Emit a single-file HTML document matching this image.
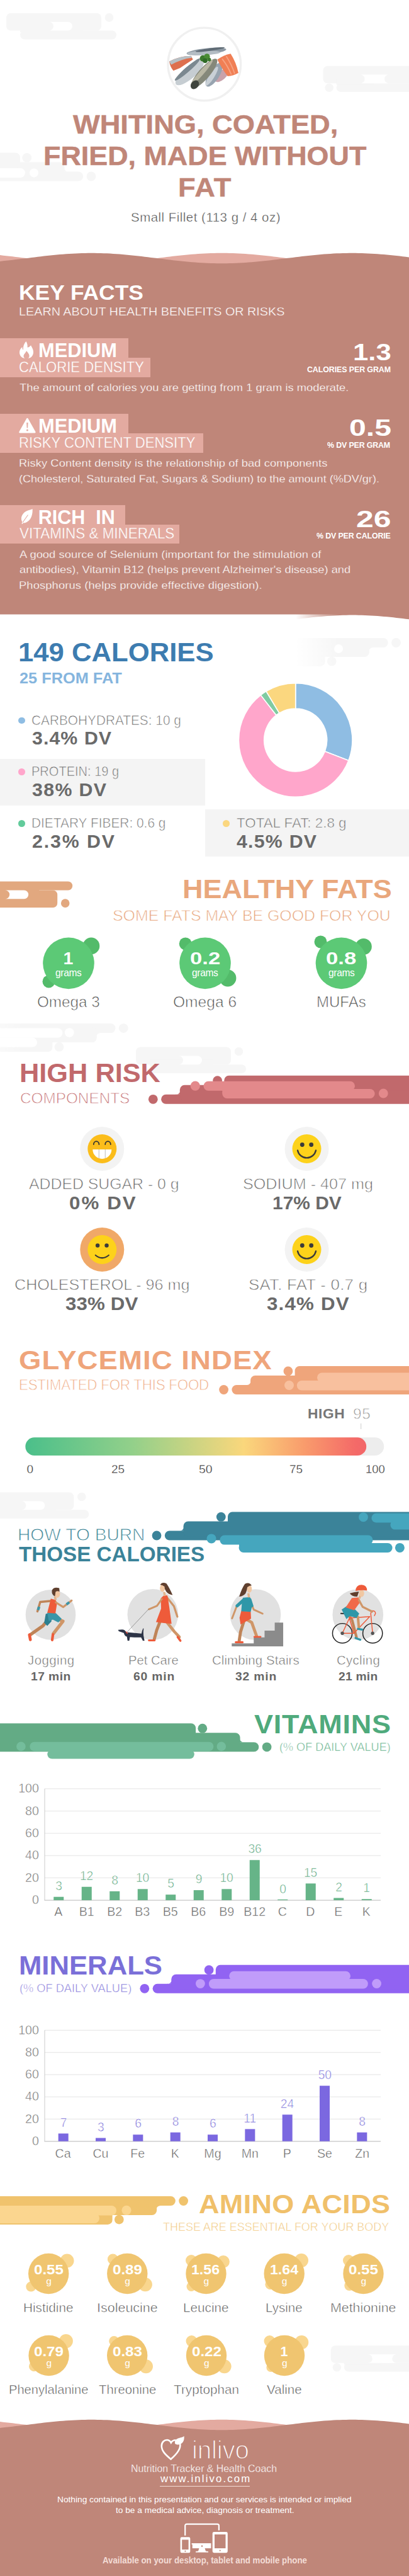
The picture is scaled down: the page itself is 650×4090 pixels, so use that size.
<!DOCTYPE html>
<html><head><meta charset="utf-8"><title>Whiting, coated, fried, made without fat</title>
<style>
html,body{margin:0;padding:0;background:#fff}
body{width:650px;height:4090px;position:relative;overflow:hidden;font-family:'Liberation Sans',sans-serif;}
.t{position:absolute;white-space:pre;line-height:1;margin:0;padding:0}
</style></head><body>
<svg style="position:absolute;left:0px;top:0px;overflow:visible" width="650" height="400" viewBox="0 0 650 400" ><g fill="#f6f6f6" transform="translate(10,21) scale(1,1)"><rect x="0" y="0" width="151" height="27.6" rx="6.9"/><circle cx="163.5" cy="6.9" r="6.8"/><rect x="22" y="27.6" width="153" height="13.8" rx="6.9"/><rect x="22" y="20" width="100" height="10"/><path d="M68.1,13.8 L98.1,13.8 A6.9,6.9 0 0 1 98.1,27.6 L68.1,27.6 A6.9,6.9 0 0 0 68.1,13.8 Z" fill="#fff"/></g><g fill="#f6f6f6"><rect x="513.6" y="104.7" width="400" height="27.6" rx="6.9"/><rect x="534.6" y="132.3" width="400" height="13.8" rx="6.9"/><rect x="534.6" y="124.7" width="60" height="10"/><circle cx="523.2" cy="139.2" r="6.8"/><path d="M572.7,118.5 L618.0,118.5 A6.9,6.9 0 0 0 618.0,132.3 L572.7,132.3 A6.9,6.9 0 0 0 572.7,118.5 Z" fill="#fff"/></g><defs><linearGradient id="gb1" gradientUnits="userSpaceOnUse" x1="-200" y1="0" x2="-100" y2="0"><stop offset="0" stop-color="#fff" stop-opacity="1"/><stop offset="1" stop-color="#fff" stop-opacity="0"/></linearGradient></defs><g fill="#f6f6f6" transform="translate(145,280) scale(-1,1)"><circle cx="0" cy="0" r="7.4"/><rect x="12.8" y="-7.5" width="700" height="15" rx="7.5"/><rect x="42.5" y="-22.5" width="700" height="24" rx="7.5"/><rect x="113" y="-37.5" width="700" height="24" rx="7.3"/><circle cx="102.3" cy="-29.6" r="7.4"/><path d="M35.5,-7.5 L43.5,-7.5 L43.5,-14 A7,7 0 0 1 35.5,-7.5 Z"/></g><circle cx="54" cy="274.5" r="7" fill="#fff"/><rect x="-20" y="267" width="60" height="15" rx="7.5" fill="#fff"/><rect x="-200" y="235" width="100" height="90" fill="url(#gb1)"/><rect x="-1000" y="235" width="800" height="90" fill="#fff"/></svg>
<svg style="position:absolute;left:0px;top:0px;overflow:visible" width="650" height="160" viewBox="0 0 650 160" ><circle cx="324.8" cy="101.9" r="57.8" fill="#fff" stroke="#f0f0f0" stroke-width="3.4"/><g transform="translate(265,40) scale(0.29343)"><ellipse cx="215" cy="142" rx="108" ry="17" transform="rotate(-6 215 142)" fill="#8d99a3"/><ellipse cx="200" cy="150" rx="90" ry="12" transform="rotate(-2 200 150)" fill="#b4bdc4"/><ellipse cx="235" cy="132" rx="80" ry="7" transform="rotate(-8 235 132)" fill="#5f6b75"/><path d="M14,196 Q70,166 132,166 L142,186 Q110,206 72,232 L36,246 Q18,226 14,196 Z" fill="#dd6f4e"/><path d="M14,196 Q70,166 132,166 L136,176 Q80,182 24,214 Z" fill="#b7c0c5"/><ellipse cx="296" cy="272" rx="46" ry="24" transform="rotate(-42 296 272)" fill="#c9a2ab"/><ellipse cx="256" cy="268" rx="74" ry="29" transform="rotate(-58 256 268)" fill="#98a4b0"/><ellipse cx="244" cy="276" rx="60" ry="14" transform="rotate(-58 244 276)" fill="#c9d0d6"/><ellipse cx="124" cy="256" rx="98" ry="33" transform="rotate(-41 124 256)" fill="#c6cdd2"/><ellipse cx="112" cy="240" rx="90" ry="13" transform="rotate(-41 112 240)" fill="#7b8890"/><ellipse cx="202" cy="262" rx="104" ry="30" transform="rotate(-49 202 262)" fill="#85887a"/><ellipse cx="190" cy="256" rx="90" ry="12" transform="rotate(-49 190 256)" fill="#b9b7a4"/><ellipse cx="152" cy="322" rx="26" ry="20" transform="rotate(-49 152 322)" fill="#3f443d"/><path d="M274,186 Q310,160 346,154 Q376,200 388,258 Q360,274 330,276 Q300,240 274,186 Z" fill="#f07f55"/><path d="M300,182 Q330,220 350,268 M322,168 Q350,210 368,262" stroke="#f6a483" stroke-width="6" fill="none"/><circle cx="196" cy="180" r="17" fill="#3c7a2c"/><circle cx="218" cy="170" r="16" fill="#4a8c34"/><circle cx="208" cy="192" r="13" fill="#2f6a26"/><circle cx="230" cy="186" r="10" fill="#3c7a2c"/></g></svg>
<svg style="position:absolute;left:0px;top:390px;overflow:visible" width="650" height="620" viewBox="0 0 650 620" ><path d="M0,100 L0.0,15.12 L5.0,15.63 L10.0,16.17 L15.0,16.73 L20.0,17.31 L25.0,17.91 L30.0,18.51 L35.0,19.13 L40.0,19.75 L45.0,20.37 L50.0,20.99 L55.0,21.61 L60.0,22.21 L65.0,22.80 L70.0,23.38 L75.0,23.94 L80.0,24.47 L85.0,24.98 L90.0,25.46 L95.0,25.91 L100.0,26.32 L105.0,26.70 L110.0,27.04 L115.0,27.34 L120.0,27.59 L125.0,27.81 L130.0,27.97 L135.0,28.10 L140.0,28.17 L145.0,28.20 L150.0,28.18 L155.0,28.11 L160.0,28.00 L165.0,27.84 L170.0,27.64 L175.0,27.39 L180.0,27.10 L185.0,26.77 L190.0,26.40 L195.0,25.99 L200.0,25.55 L205.0,25.08 L210.0,24.58 L215.0,24.05 L220.0,23.49 L225.0,22.92 L230.0,22.33 L235.0,21.73 L240.0,21.12 L245.0,20.50 L250.0,19.88 L255.0,19.25 L260.0,18.64 L265.0,18.03 L270.0,17.43 L275.0,16.85 L280.0,16.28 L285.0,15.74 L290.0,15.22 L295.0,14.73 L300.0,14.27 L305.0,13.84 L310.0,13.45 L315.0,13.09 L320.0,12.78 L325.0,12.50 L330.0,12.27 L335.0,12.09 L340.0,11.95 L345.0,11.85 L350.0,11.81 L355.0,11.81 L360.0,11.85 L365.0,11.95 L370.0,12.09 L375.0,12.27 L380.0,12.50 L385.0,12.78 L390.0,13.09 L395.0,13.45 L400.0,13.84 L405.0,14.27 L410.0,14.73 L415.0,15.22 L420.0,15.74 L425.0,16.28 L430.0,16.85 L435.0,17.43 L440.0,18.03 L445.0,18.64 L450.0,19.25 L455.0,19.88 L460.0,20.50 L465.0,21.12 L470.0,21.73 L475.0,22.33 L480.0,22.92 L485.0,23.49 L490.0,24.05 L495.0,24.58 L500.0,25.08 L505.0,25.55 L510.0,25.99 L515.0,26.40 L520.0,26.77 L525.0,27.10 L530.0,27.39 L535.0,27.64 L540.0,27.84 L545.0,28.00 L550.0,28.11 L555.0,28.18 L560.0,28.20 L565.0,28.17 L570.0,28.10 L575.0,27.97 L580.0,27.81 L585.0,27.59 L590.0,27.34 L595.0,27.04 L600.0,26.70 L605.0,26.32 L610.0,25.91 L615.0,25.46 L620.0,24.98 L625.0,24.47 L630.0,23.94 L635.0,23.38 L640.0,22.80 L645.0,22.21 L650.0,21.61 L650,100 Z" fill="#e3aaa0"/><path d="M0,605 L0.0,24.88 L5.0,24.37 L10.0,23.83 L15.0,23.27 L20.0,22.69 L25.0,22.09 L30.0,21.49 L35.0,20.87 L40.0,20.25 L45.0,19.63 L50.0,19.01 L55.0,18.39 L60.0,17.79 L65.0,17.20 L70.0,16.62 L75.0,16.06 L80.0,15.53 L85.0,15.02 L90.0,14.54 L95.0,14.09 L100.0,13.68 L105.0,13.30 L110.0,12.96 L115.0,12.66 L120.0,12.41 L125.0,12.19 L130.0,12.03 L135.0,11.90 L140.0,11.83 L145.0,11.80 L150.0,11.82 L155.0,11.89 L160.0,12.00 L165.0,12.16 L170.0,12.36 L175.0,12.61 L180.0,12.90 L185.0,13.23 L190.0,13.60 L195.0,14.01 L200.0,14.45 L205.0,14.92 L210.0,15.42 L215.0,15.95 L220.0,16.51 L225.0,17.08 L230.0,17.67 L235.0,18.27 L240.0,18.88 L245.0,19.50 L250.0,20.12 L255.0,20.75 L260.0,21.36 L265.0,21.97 L270.0,22.57 L275.0,23.15 L280.0,23.72 L285.0,24.26 L290.0,24.78 L295.0,25.27 L300.0,25.73 L305.0,26.16 L310.0,26.55 L315.0,26.91 L320.0,27.22 L325.0,27.50 L330.0,27.73 L335.0,27.91 L340.0,28.05 L345.0,28.15 L350.0,28.19 L355.0,28.19 L360.0,28.15 L365.0,28.05 L370.0,27.91 L375.0,27.73 L380.0,27.50 L385.0,27.22 L390.0,26.91 L395.0,26.55 L400.0,26.16 L405.0,25.73 L410.0,25.27 L415.0,24.78 L420.0,24.26 L425.0,23.72 L430.0,23.15 L435.0,22.57 L440.0,21.97 L445.0,21.36 L450.0,20.75 L455.0,20.12 L460.0,19.50 L465.0,18.88 L470.0,18.27 L475.0,17.67 L480.0,17.08 L485.0,16.51 L490.0,15.95 L495.0,15.42 L500.0,14.92 L505.0,14.45 L510.0,14.01 L515.0,13.60 L520.0,13.23 L525.0,12.90 L530.0,12.61 L535.0,12.36 L540.0,12.16 L545.0,12.00 L550.0,11.89 L555.0,11.82 L560.0,11.80 L565.0,11.83 L570.0,11.90 L575.0,12.03 L580.0,12.19 L585.0,12.41 L590.0,12.66 L595.0,12.96 L600.0,13.30 L605.0,13.68 L610.0,14.09 L615.0,14.54 L620.0,15.02 L625.0,15.53 L630.0,16.06 L635.0,16.62 L640.0,17.20 L645.0,17.79 L650.0,18.39 L650,605 Z" fill="#bf8679"/><path d="M0,620 L0.0,589.95 L5.0,590.47 L10.0,591.02 L15.0,591.60 L20.0,592.19 L25.0,592.80 L30.0,593.42 L35.0,594.05 L40.0,594.68 L45.0,595.32 L50.0,595.95 L55.0,596.58 L60.0,597.20 L65.0,597.81 L70.0,598.40 L75.0,598.98 L80.0,599.53 L85.0,600.05 L90.0,600.54 L95.0,601.01 L100.0,601.43 L105.0,601.83 L110.0,602.18 L115.0,602.49 L120.0,602.75 L125.0,602.98 L130.0,603.15 L135.0,603.28 L140.0,603.37 L145.0,603.40 L150.0,603.38 L155.0,603.32 L160.0,603.21 L165.0,603.05 L170.0,602.85 L175.0,602.60 L180.0,602.31 L185.0,601.97 L190.0,601.60 L195.0,601.18 L200.0,600.73 L205.0,600.25 L210.0,599.74 L215.0,599.20 L220.0,598.64 L225.0,598.05 L230.0,597.45 L235.0,596.83 L240.0,596.21 L245.0,595.57 L250.0,594.94 L255.0,594.30 L260.0,593.67 L265.0,593.04 L270.0,592.43 L275.0,591.83 L280.0,591.25 L285.0,590.69 L290.0,590.16 L295.0,589.65 L300.0,589.17 L305.0,588.73 L310.0,588.33 L315.0,587.96 L320.0,587.63 L325.0,587.35 L330.0,587.11 L335.0,586.91 L340.0,586.76 L345.0,586.66 L350.0,586.61 L355.0,586.60 L360.0,586.65 L365.0,586.74 L370.0,586.88 L375.0,587.06 L380.0,587.30 L385.0,587.57 L390.0,587.89 L395.0,588.25 L400.0,588.65 L405.0,589.08 L410.0,589.55 L415.0,590.05 L420.0,590.58 L425.0,591.14 L430.0,591.71 L435.0,592.31 L440.0,592.92 L445.0,593.54 L450.0,594.17 L455.0,594.81 L460.0,595.45 L465.0,596.08 L470.0,596.71 L475.0,597.33 L480.0,597.93 L485.0,598.52 L490.0,599.09 L495.0,599.63 L500.0,600.15 L505.0,600.64 L510.0,601.10 L515.0,601.52 L520.0,601.90 L525.0,602.24 L530.0,602.54 L535.0,602.80 L540.0,603.02 L545.0,603.18 L550.0,603.30 L555.0,603.38 L560.0,603.40 L565.0,603.38 L570.0,603.30 L575.0,603.18 L580.0,603.02 L585.0,602.80 L590.0,602.54 L595.0,602.24 L600.0,601.90 L605.0,601.52 L610.0,601.10 L615.0,600.64 L620.0,600.15 L625.0,599.63 L630.0,599.09 L635.0,598.52 L640.0,597.93 L645.0,597.33 L650.0,596.71 L650,620 Z" fill="#fff" fill-opacity="0.5"/><path d="M0,620 L0.0,600.05 L5.0,599.53 L10.0,598.98 L15.0,598.40 L20.0,597.81 L25.0,597.20 L30.0,596.58 L35.0,595.95 L40.0,595.32 L45.0,594.68 L50.0,594.05 L55.0,593.42 L60.0,592.80 L65.0,592.19 L70.0,591.60 L75.0,591.02 L80.0,590.47 L85.0,589.95 L90.0,589.46 L95.0,588.99 L100.0,588.57 L105.0,588.17 L110.0,587.82 L115.0,587.51 L120.0,587.25 L125.0,587.02 L130.0,586.85 L135.0,586.72 L140.0,586.63 L145.0,586.60 L150.0,586.62 L155.0,586.68 L160.0,586.79 L165.0,586.95 L170.0,587.15 L175.0,587.40 L180.0,587.69 L185.0,588.03 L190.0,588.40 L195.0,588.82 L200.0,589.27 L205.0,589.75 L210.0,590.26 L215.0,590.80 L220.0,591.36 L225.0,591.95 L230.0,592.55 L235.0,593.17 L240.0,593.79 L245.0,594.43 L250.0,595.06 L255.0,595.70 L260.0,596.33 L265.0,596.96 L270.0,597.57 L275.0,598.17 L280.0,598.75 L285.0,599.31 L290.0,599.84 L295.0,600.35 L300.0,600.83 L305.0,601.27 L310.0,601.67 L315.0,602.04 L320.0,602.37 L325.0,602.65 L330.0,602.89 L335.0,603.09 L340.0,603.24 L345.0,603.34 L350.0,603.39 L355.0,603.40 L360.0,603.35 L365.0,603.26 L370.0,603.12 L375.0,602.94 L380.0,602.70 L385.0,602.43 L390.0,602.11 L395.0,601.75 L400.0,601.35 L405.0,600.92 L410.0,600.45 L415.0,599.95 L420.0,599.42 L425.0,598.86 L430.0,598.29 L435.0,597.69 L440.0,597.08 L445.0,596.46 L450.0,595.83 L455.0,595.19 L460.0,594.55 L465.0,593.92 L470.0,593.29 L475.0,592.67 L480.0,592.07 L485.0,591.48 L490.0,590.91 L495.0,590.37 L500.0,589.85 L505.0,589.36 L510.0,588.90 L515.0,588.48 L520.0,588.10 L525.0,587.76 L530.0,587.46 L535.0,587.20 L540.0,586.98 L545.0,586.82 L550.0,586.70 L555.0,586.62 L560.0,586.60 L565.0,586.62 L570.0,586.70 L575.0,586.82 L580.0,586.98 L585.0,587.20 L590.0,587.46 L595.0,587.76 L600.0,588.10 L605.0,588.48 L610.0,588.90 L615.0,589.36 L620.0,589.85 L625.0,590.37 L630.0,590.91 L635.0,591.48 L640.0,592.07 L645.0,592.67 L650.0,593.29 L650,620 Z" fill="#fff"/></svg>
<div style="position:absolute;left:0px;top:537px;width:203.8px;height:32px;background:#e3aaa0"></div>
<div style="position:absolute;left:0px;top:568px;width:239.2px;height:30.6px;background:#e3aaa0"></div>
<svg style="position:absolute;left:31.4px;top:541.6px;overflow:visible" width="22" height="27" viewBox="0 0 22 27" ><path d="M10.5,0 C12.5,3.5 13,6.5 12.5,9.5 C14.5,10 16.5,8.5 18,6.3 C20,10 22,13 22,17 C22,23 18,27 12.5,27 L9.5,27 C4,27 0,23 0,17.5 C0,13.5 2,11 4.5,9 C4.3,11.5 5,13 6,13.5 C5.5,8 7.5,3 10.5,0 Z M11,15 C13,18 16,20 15.5,24 C15.3,26 14,27 12.5,27 L9.5,27 C8,27 6.5,25.5 6.5,23.5 C6.5,20 10,18.5 11,15 Z" fill="#fff" fill-rule="evenodd"/></svg>
<div style="position:absolute;left:0px;top:657.2px;width:203.8px;height:32px;background:#e3aaa0"></div>
<div style="position:absolute;left:0px;top:688.2px;width:322.8px;height:30.6px;background:#e3aaa0"></div>
<svg style="position:absolute;left:30px;top:662.7px;overflow:visible" width="27" height="25" viewBox="0 0 27 25" ><path d="M13.4 0.8 C13.9 0.8 14.3 1.1 14.6 1.6 L26.4 22.4 C26.9 23.4 26.3 24.4 25.2 24.4 L1.6 24.4 C0.5 24.4 -0.1 23.4 0.4 22.4 L12.2 1.6 C12.5 1.1 12.9 0.8 13.4 0.8 Z M12.2 8 L12.6 16.6 L14.2 16.6 L14.6 8 Z M13.4 18.4 A1.5 1.5 0 1 0 13.4 21.4 A1.5 1.5 0 1 0 13.4 18.4 Z" fill="#fff" fill-rule="evenodd"/></svg>
<div style="position:absolute;left:0px;top:801.7px;width:198.7px;height:32px;background:#e3aaa0"></div>
<div style="position:absolute;left:0px;top:832.7px;width:284.6px;height:30.6px;background:#e3aaa0"></div>
<svg style="position:absolute;left:32.7px;top:807.7px;overflow:visible" width="19" height="24" viewBox="0 0 19 24" ><path d="M18.6,0 C19.2,8 17,17 9.5,21 C7.5,22 5.5,22.6 3.8,22.2 L2.6,24 L1.4,23.4 L2.4,21 C-1,15 1.5,7.5 9,3.6 C12,2 16,1.6 18.6,0 Z" fill="#fff"/><path d="M3,21.5 L11.5,9.5" stroke="#e3aaa0" stroke-width="1.1" fill="none"/></svg>
<svg style="position:absolute;left:0px;top:0px;overflow:visible" width="650" height="1100" viewBox="0 0 650 1100" ><defs><linearGradient id="gb2" gradientUnits="userSpaceOnUse" x1="470" y1="0" x2="540" y2="0"><stop offset="0" stop-color="#fff" stop-opacity="1"/><stop offset="1" stop-color="#fff" stop-opacity="0"/></linearGradient></defs><g fill="#f6f6f6" transform="translate(629.5,1020.5) scale(-1,-1)"><circle cx="0" cy="0" r="7.4"/><rect x="12.8" y="-7.5" width="700" height="15" rx="7.5"/><rect x="42.5" y="-22.5" width="700" height="24" rx="7.5"/><rect x="113" y="-37.5" width="700" height="24" rx="7.3"/><circle cx="102.3" cy="-29.6" r="7.4"/><path d="M35.5,-7.5 L43.5,-7.5 L43.5,-14 A7,7 0 0 1 35.5,-7.5 Z"/></g><circle cx="538" cy="1030" r="7" fill="#fff"/><rect x="470" y="975.5" width="70" height="90" fill="url(#gb2)"/><rect x="-330" y="975.5" width="800" height="90" fill="#fff"/></svg>
<div style="position:absolute;left:0px;top:1205px;width:325.5px;height:74px;background:#f4f4f4"></div>
<div style="position:absolute;left:325.5px;top:1285px;width:325px;height:75px;background:#f4f4f4"></div>
<div style="position:absolute;left:29.2px;top:1138.8px;width:10.6px;height:10.6px;border-radius:50%;background:#8fbde3"></div>
<div style="position:absolute;left:29.2px;top:1220.3px;width:10.6px;height:10.6px;border-radius:50%;background:#ffa6cb"></div>
<div style="position:absolute;left:29.2px;top:1302.3px;width:10.6px;height:10.6px;border-radius:50%;background:#62cb9b"></div>
<div style="position:absolute;left:354.4px;top:1302.3px;width:10.6px;height:10.6px;border-radius:50%;background:#fbd77f"></div>
<svg style="position:absolute;left:0px;top:1070px;overflow:visible" width="650" height="210" viewBox="0 0 650 210" ><path d="M469.70,14.70 A90.3,90.3 0 0 1 553.94,137.52 L516.34,123.01 A50,50 0 0 0 469.70,55.00 Z" fill="#8fbde3" stroke="#fff" stroke-width="1.6" stroke-linejoin="round"/><path d="M553.94,137.52 A90.3,90.3 0 1 1 414.38,33.63 L439.07,65.48 A50,50 0 1 0 516.34,123.01 Z" fill="#ffa6cb" stroke="#fff" stroke-width="1.6" stroke-linejoin="round"/><path d="M414.38,33.63 A90.3,90.3 0 0 1 423.04,27.69 L443.87,62.19 A50,50 0 0 0 439.07,65.48 Z" fill="#80cba2" stroke="#fff" stroke-width="1.6" stroke-linejoin="round"/><path d="M423.04,27.69 A90.3,90.3 0 0 1 469.70,14.70 L469.70,55.00 A50,50 0 0 0 443.87,62.19 Z" fill="#fbd77f" stroke="#fff" stroke-width="1.6" stroke-linejoin="round"/></svg>
<svg style="position:absolute;left:0px;top:1390px;overflow:visible" width="650" height="60" viewBox="0 0 650 60" ><g fill="#e2a87f" transform="translate(-59.8,50.99999999999991) scale(1,-1)"><rect x="0" y="0" width="151" height="27.6" rx="6.9"/><circle cx="163.5" cy="6.9" r="6.8"/><rect x="22" y="27.6" width="153" height="13.8" rx="6.9"/><rect x="22" y="20" width="100" height="10"/><path d="M68.1,13.8 L98.1,13.8 A6.9,6.9 0 0 1 98.1,27.6 L68.1,27.6 A6.9,6.9 0 0 0 68.1,13.8 Z" fill="#fff"/></g></svg>
<svg style="position:absolute;left:0px;top:1470px;overflow:visible" width="650" height="120" viewBox="0 0 650 120" ><circle cx="145" cy="31.90000000000009" r="13.3" fill="#53bb6a"/><circle cx="77.5" cy="88.40000000000009" r="10" fill="#53bb6a"/><circle cx="109" cy="59.40000000000009" r="40.8" fill="#5cc976"/></svg>
<svg style="position:absolute;left:0px;top:1470px;overflow:visible" width="650" height="120" viewBox="0 0 650 120" ><circle cx="294.7" cy="28.40000000000009" r="10" fill="#53bb6a"/><circle cx="362" cy="83.0" r="13.4" fill="#53bb6a"/><circle cx="326" cy="59.40000000000009" r="40.8" fill="#5cc976"/></svg>
<svg style="position:absolute;left:0px;top:1470px;overflow:visible" width="650" height="120" viewBox="0 0 650 120" ><circle cx="509.5" cy="25.40000000000009" r="10" fill="#53bb6a"/><circle cx="577.8" cy="33.0" r="13" fill="#53bb6a"/><circle cx="542.5" cy="59.40000000000009" r="40.8" fill="#5cc976"/></svg>
<svg style="position:absolute;left:0px;top:0px;overflow:visible" width="650" height="1720" viewBox="0 0 650 1720" ><defs><linearGradient id="gb3" gradientUnits="userSpaceOnUse" x1="-60" y1="0" x2="40" y2="0"><stop offset="0" stop-color="#fff" stop-opacity="1"/><stop offset="1" stop-color="#fff" stop-opacity="0"/></linearGradient></defs><g fill="#f6f6f6" transform="translate(196.3,1632.6) scale(-1,-1)"><circle cx="0" cy="0" r="7.4"/><rect x="12.8" y="-7.5" width="700" height="15" rx="7.5"/><rect x="42.5" y="-22.5" width="700" height="24" rx="7.5"/><rect x="113" y="-37.5" width="700" height="24" rx="7.3"/><circle cx="102.3" cy="-29.6" r="7.4"/><path d="M35.5,-7.5 L43.5,-7.5 L43.5,-14 A7,7 0 0 1 35.5,-7.5 Z"/></g><circle cx="110.3" cy="1639.6" r="7.4" fill="#fff"/><rect x="-20" y="1632.5" width="119.5" height="15.0" rx="7.5" fill="#fff"/><rect x="-20" y="1647.5" width="79" height="15.0" rx="7.5" fill="#fff"/><rect x="-60" y="1587.6" width="100" height="90" fill="url(#gb3)"/><rect x="-860" y="1587.6" width="800" height="90" fill="#fff"/><g fill="#f6f6f6" transform="translate(216,1662.6) scale(1,1)"><rect x="0" y="0" width="151" height="27.6" rx="6.9"/><circle cx="163.5" cy="6.9" r="6.8"/><rect x="22" y="27.6" width="153" height="13.8" rx="6.9"/><rect x="22" y="20" width="100" height="10"/><path d="M68.1,13.8 L98.1,13.8 A6.9,6.9 0 0 1 98.1,27.6 L68.1,27.6 A6.9,6.9 0 0 0 68.1,13.8 Z" fill="#fff"/></g></svg>
<svg style="position:absolute;left:0px;top:1690px;overflow:visible" width="650" height="80" viewBox="0 0 650 80" ><g fill="#c1696c" transform="translate(243.3,55.299999999999955) scale(1,1)"><circle cx="0" cy="0" r="7.4"/><rect x="12.8" y="-7.5" width="700" height="15" rx="7.5"/><rect x="42.5" y="-22.5" width="700" height="24" rx="7.5"/><rect x="113" y="-37.5" width="700" height="24" rx="7.3"/><circle cx="102.3" cy="-29.6" r="7.4"/><path d="M35.5,-7.5 L43.5,-7.5 L43.5,-14 A7,7 0 0 1 35.5,-7.5 Z"/></g><circle cx="310.3" cy="34.200000000000045" r="7.6" fill="#e3898b"/><rect x="323.5" y="26.799999999999955" width="240.5" height="15.0" rx="7.5" fill="#e3898b"/><rect x="353.3" y="39" width="242.3" height="15" rx="7.5" fill="#e3898b"/><rect x="353.3" y="32" width="190" height="14" fill="#e3898b"/><circle cx="609.3" cy="46" r="7.4" fill="#e3898b"/></svg>
<svg style="position:absolute;left:0px;top:1780px;overflow:visible" width="650" height="260" viewBox="0 0 650 260" ><circle cx="162.3" cy="44" r="35" fill="#f3f3f3"/><circle cx="162.3" cy="44" r="23" fill="#fbbd1b"/><path d="M147.3,45 L177.3,45 A15,15 0 0 1 147.3,45 Z" fill="#fff"/><path d="M157.3,45 L157.3,59 M167.3,45 L167.3,59" stroke="#ccc" stroke-width="1.3"/><path d="M148.8,37 a4.3,4.8 0 0 1 8.6,0 M167.20000000000002,37 a4.3,4.8 0 0 1 8.6,0" stroke="#333" stroke-width="1.8" fill="none" stroke-linecap="round"/><circle cx="487.5" cy="44" r="35" fill="#f3f3f3"/><circle cx="487.5" cy="44" r="23" fill="#fdd21a"/><circle cx="480.3" cy="37.5" r="3.4" fill="#3a3a3a"/><circle cx="494.7" cy="37.5" r="3.4" fill="#3a3a3a"/><path d="M473.0,46.5 A14.8,14.8 0 0 0 502.0,46.5" stroke="#3a3a3a" stroke-width="2.4" fill="none" stroke-linecap="round"/><circle cx="162.3" cy="204" r="35" fill="#f0a868"/><circle cx="162.3" cy="204" r="23" fill="#fdd21a"/><circle cx="155.10000000000002" cy="197.5" r="3.2" fill="#3a3a3a"/><circle cx="169.5" cy="197.5" r="3.2" fill="#3a3a3a"/><path d="M151.8,213 Q162.3,221.5 172.8,213" stroke="#3a3a3a" stroke-width="2.2" fill="none" stroke-linecap="round"/><circle cx="487.5" cy="204" r="35" fill="#f3f3f3"/><circle cx="487.5" cy="204" r="23" fill="#fdd21a"/><circle cx="480.3" cy="197.5" r="3.4" fill="#3a3a3a"/><circle cx="494.7" cy="197.5" r="3.4" fill="#3a3a3a"/><path d="M473.0,206.5 A14.8,14.8 0 0 0 502.0,206.5" stroke="#3a3a3a" stroke-width="2.4" fill="none" stroke-linecap="round"/></svg>
<svg style="position:absolute;left:0px;top:2150px;overflow:visible" width="650" height="80" viewBox="0 0 650 80" ><g fill="#efa57b" transform="translate(355.6,56.5) scale(1,1)"><circle cx="0" cy="0" r="7.4"/><rect x="12.8" y="-7.5" width="700" height="15" rx="7.5"/><rect x="42.5" y="-22.5" width="700" height="24" rx="7.5"/><rect x="113" y="-37.5" width="700" height="24" rx="7.3"/><circle cx="102.3" cy="-29.6" r="7.4"/><path d="M35.5,-7.5 L43.5,-7.5 L43.5,-14 A7,7 0 0 1 35.5,-7.5 Z"/></g><circle cx="459.5" cy="49.5" r="7.5" fill="#f8c09e"/><rect x="471.8" y="42" width="228.2" height="15.5" rx="7.75" fill="#f8c09e"/><rect x="504" y="29.59999999999991" width="196" height="15.400000000000091" rx="7.7000000000000455" fill="#f8c09e"/><rect x="520" y="36" width="140" height="14" fill="#f8c09e"/></svg>
<svg style="position:absolute;left:0px;top:2230px;overflow:visible" width="650" height="120" viewBox="0 0 650 120" ><defs><linearGradient id="gi" gradientUnits="userSpaceOnUse" x1="40" y1="0" x2="610" y2="0"><stop offset="0" stop-color="#4abf8a"/><stop offset="0.3" stop-color="#93d08a"/><stop offset="0.61" stop-color="#fad77c"/><stop offset="0.78" stop-color="#f99b6c"/><stop offset="0.92" stop-color="#f46a68"/><stop offset="1" stop-color="#f0606a"/></linearGradient></defs><rect x="40.4" y="52.30000000000018" width="569.8000000000001" height="28.699999999999818" rx="14.349999999999909" fill="#ededed"/><rect x="40.4" y="52.30000000000018" width="541.8000000000001" height="28.699999999999818" rx="14.349999999999909" fill="url(#gi)"/><rect x="573.2" y="30" width="1" height="9" fill="#ccc"/></svg>
<svg style="position:absolute;left:0px;top:2360px;overflow:visible" width="650" height="60" viewBox="0 0 650 60" ><g fill="#f6f6f6" transform="translate(-33.7,9.599999999999909) scale(1,1)"><rect x="0" y="0" width="151" height="27.6" rx="6.9"/><circle cx="163.5" cy="6.9" r="6.8"/><rect x="22" y="27.6" width="153" height="13.8" rx="6.9"/><rect x="22" y="20" width="100" height="10"/><path d="M68.1,13.8 L98.1,13.8 A6.9,6.9 0 0 1 98.1,27.6 L68.1,27.6 A6.9,6.9 0 0 0 68.1,13.8 Z" fill="#fff"/></g></svg>
<svg style="position:absolute;left:0px;top:2390px;overflow:visible" width="650" height="90" viewBox="0 0 650 90" ><g fill="#3b8399" transform="translate(249,48) scale(1,1)"><circle cx="0" cy="0" r="7.4"/><rect x="12.8" y="-7.5" width="700" height="15" rx="7.5"/><rect x="42.5" y="-22.5" width="700" height="24" rx="7.5"/><rect x="113" y="-37.5" width="700" height="24" rx="7.3"/><circle cx="102.3" cy="-29.6" r="7.4"/><path d="M35.5,-7.5 L43.5,-7.5 L43.5,-14 A7,7 0 0 1 35.5,-7.5 Z"/></g><circle cx="336" cy="52.90000000000009" r="7.5" fill="#45a6be"/><rect x="349.3" y="47.59999999999991" width="243.2" height="15.0" rx="7.5" fill="#45a6be"/><rect x="379.6" y="60" width="244.0" height="15" rx="7.5" fill="#45a6be"/><rect x="380" y="54" width="205" height="12" fill="#45a6be"/><circle cx="635.4" cy="67.40000000000009" r="7.5" fill="#45a6be"/><circle cx="577.5" cy="18.800000000000182" r="7.4" fill="#45a6be"/><rect x="590.4" y="12.800000000000182" width="109.60000000000002" height="14.599999999999909" rx="7.2999999999999545" fill="#45a6be"/><rect x="620.4" y="23.59999999999991" width="79.60000000000002" height="15.0" rx="7.5" fill="#45a6be"/><rect x="627" y="19" width="30" height="10" fill="#45a6be"/></svg>
<svg style="position:absolute;left:0px;top:2500px;overflow:visible" width="650" height="125" viewBox="0 0 650 125" ><g transform="translate(36,10) scale(0.24450)"><circle cx="182" cy="220" r="163" fill="#e1e1e1"/><path d="M168,248 L132,292 L52,348" stroke="#bf8458" stroke-width="21" fill="none" stroke-linecap="round" stroke-linejoin="round"/><path d="M44,350 L50,382" stroke="#ee5b3a" stroke-width="19" fill="none" stroke-linecap="round" stroke-linejoin="round"/><path d="M190,130 L114,137 L96,198" stroke="#bf8458" stroke-width="14" fill="none" stroke-linecap="round" stroke-linejoin="round"/><path d="M107,168 L100,190" stroke="#3a96a8" stroke-width="17" fill="none" stroke-linecap="butt" stroke-linejoin="round"/><polygon points="150,215 172,208 188,262 160,292 140,272" fill="#2c7f90"/><path d="M205,238 L262,262 L200,342" stroke="#cf9668" stroke-width="21" fill="none" stroke-linecap="round" stroke-linejoin="round"/><path d="M197,348 L192,384" stroke="#ee5b3a" stroke-width="17" fill="none" stroke-linecap="round" stroke-linejoin="round"/><polygon points="160,205 216,210 254,246 232,270 196,252 170,262" fill="#3a96a8"/><polygon points="183,116 214,124 224,142 213,212 160,208 174,152" fill="#ee5b3a"/><path d="M216,140 L264,170 L318,128" stroke="#cf9668" stroke-width="13" fill="none" stroke-linecap="round" stroke-linejoin="round"/><path d="M285,153 L303,139" stroke="#3a96a8" stroke-width="16" fill="none" stroke-linecap="butt" stroke-linejoin="round"/><path d="M210,100 L214,124" stroke="#e3b48c" stroke-width="15" fill="none" stroke-linecap="butt" stroke-linejoin="round"/><ellipse cx="225" cy="85" rx="18" ry="25" fill="#f1c7a2"/><path d="M190,62 Q202,36 238,47 L240,70 Q224,62 214,72 L210,100 Q188,92 190,62 Z" fill="#5f3f2e"/></g><g transform="translate(185,5) scale(0.26896)"><circle cx="215" cy="217" r="150" fill="#e1e1e1"/><path d="M300,118 L340,168 L360,230" stroke="#cf9668" stroke-width="12" fill="none" stroke-linecap="round" stroke-linejoin="round"/><path d="M298,262 L342,318 L372,350" stroke="#cf9668" stroke-width="17" fill="none" stroke-linecap="round" stroke-linejoin="round"/><path d="M362,350 L378,372" stroke="#ee5b3a" stroke-width="13" fill="none" stroke-linecap="round" stroke-linejoin="round"/><path d="M258,258 L238,310 L224,362" stroke="#bf8458" stroke-width="18" fill="none" stroke-linecap="round" stroke-linejoin="round"/><path d="M192,370 L226,370" stroke="#ee5b3a" stroke-width="11" fill="none" stroke-linecap="round" stroke-linejoin="round"/><polygon points="262,122 284,100 302,106 312,170 326,272 234,262 264,182" fill="#ee5b3a"/><path d="M268,126 L240,166 L192,186" stroke="#cf9668" stroke-width="11" fill="none" stroke-linecap="round" stroke-linejoin="round"/><path d="M282,84 L286,108" stroke="#e3b48c" stroke-width="13" fill="none" stroke-linecap="butt" stroke-linejoin="round"/><ellipse cx="272" cy="62" rx="15" ry="22" fill="#f1c7a2"/><path d="M258,42 Q270,22 296,34 Q314,60 332,102 Q308,100 294,82 Q284,70 284,52 Q272,42 258,42 Z" fill="#5f3f2e"/><path d="M190,186 L64,320" stroke="#555" stroke-width="2" fill="none" stroke-linecap="round" stroke-linejoin="round"/><path d="M10,308 L34,306 Q50,306 58,322 Q100,326 148,330 Q152,310 158,298 L161,300 Q158,318 160,340 L166,372 L156,372 L146,352 Q100,352 80,350 L76,372 L66,372 L62,348 Q48,344 44,326 L14,316 Z" fill="#2d3447"/><path d="M56,318 L66,330" stroke="#e34b3a" stroke-width="5" fill="none" stroke-linecap="butt" stroke-linejoin="round"/></g><g transform="translate(350,5) scale(0.26896)"><circle cx="208" cy="218" r="150" fill="#e1e1e1"/><polygon points="68,388 198,388 198,352 262,352 262,312 322,312 322,265 372,265 372,405 68,405" fill="#8b8b8b"/><path d="M96,172 L70,240" stroke="#cf9668" stroke-width="11" fill="none" stroke-linecap="round" stroke-linejoin="round"/><path d="M140,130 L100,166" stroke="#2f97a8" stroke-width="19" fill="none" stroke-linecap="round" stroke-linejoin="round"/><path d="M138,262 L120,320 L112,372" stroke="#bf8458" stroke-width="18" fill="none" stroke-linecap="round" stroke-linejoin="round"/><path d="M92,381 L132,381" stroke="#ee5b3a" stroke-width="12" fill="none" stroke-linecap="round" stroke-linejoin="round"/><path d="M162,250 L186,264 L214,342" stroke="#cf9668" stroke-width="18" fill="none" stroke-linecap="round" stroke-linejoin="round"/><path d="M202,349 L238,349" stroke="#ee5b3a" stroke-width="11" fill="none" stroke-linecap="round" stroke-linejoin="round"/><polygon points="124,196 180,200 182,242 120,276 114,236" fill="#ee5b3a"/><polygon points="134,118 176,114 188,168 180,202 124,198 128,150" fill="#2f97a8"/><path d="M182,150 L198,188 L250,212" stroke="#cf9668" stroke-width="11" fill="none" stroke-linecap="round" stroke-linejoin="round"/><path d="M176,128 L188,166" stroke="#2f97a8" stroke-width="16" fill="none" stroke-linecap="round" stroke-linejoin="round"/><path d="M166,92 L170,116" stroke="#e3b48c" stroke-width="13" fill="none" stroke-linecap="butt" stroke-linejoin="round"/><ellipse cx="172" cy="66" rx="15" ry="22" fill="#f1c7a2"/><path d="M186,46 Q172,24 146,36 Q128,60 112,112 Q138,108 150,92 Q158,78 160,56 Q172,46 186,46 Z" fill="#5f3f2e"/></g><g transform="translate(515,5) scale(0.26896)"><circle cx="200" cy="218" r="150" fill="#e1e1e1"/><circle cx="108" cy="328" r="58" fill="none" stroke="#1d1d1d" stroke-width="5.5"/><circle cx="287" cy="328" r="58" fill="none" stroke="#1d1d1d" stroke-width="5.5"/><path d="M150,225 L166,250 L192,352" stroke="#bf8458" stroke-width="15" fill="none" stroke-linecap="round" stroke-linejoin="round"/><path d="M186,356 L214,366" stroke="#2f97a8" stroke-width="12" fill="none" stroke-linecap="round" stroke-linejoin="round"/><path d="M108,328 L150,238 L270,230 L176,328 L108,328 M142,212 L176,328 M276,212 L287,328 M276,212 L280,196 Q302,192 304,210 L298,224" stroke="#ee5b3a" stroke-width="5.5" fill="none" stroke-linecap="round" stroke-linejoin="round"/><path d="M100,211 L146,213" stroke="#333" stroke-width="8" fill="none" stroke-linecap="round" stroke-linejoin="round"/><circle cx="108" cy="328" r="10" fill="#555"/><circle cx="287" cy="328" r="10" fill="#555"/><path d="M186,214 L200,232 L206,298" stroke="#cf9668" stroke-width="15" fill="none" stroke-linecap="round" stroke-linejoin="round"/><path d="M200,302 L226,306" stroke="#2f97a8" stroke-width="12" fill="none" stroke-linecap="round" stroke-linejoin="round"/><polygon points="104,188 140,164 182,186 208,212 192,238 152,226 132,244" fill="#2f97a8"/><polygon points="164,120 204,116 216,140 178,192 128,176" fill="#f06a4a"/><path d="M206,132 L228,172 L284,200" stroke="#cf9668" stroke-width="12" fill="none" stroke-linecap="round" stroke-linejoin="round"/><path d="M214,104 L208,124" stroke="#e3b48c" stroke-width="13" fill="none" stroke-linecap="butt" stroke-linejoin="round"/><path d="M206,82 Q180,84 152,92 Q164,112 196,112 Z" fill="#5f3f2e"/><ellipse cx="222" cy="92" rx="15" ry="21" fill="#f1c7a2"/><path d="M186,78 Q188,42 222,42 Q254,44 254,76 Q226,70 186,78 Z" fill="#ee5b3a"/></g></svg>
<svg style="position:absolute;left:0px;top:2720px;overflow:visible" width="650" height="90" viewBox="0 0 650 90" ><g fill="#63ab85" transform="translate(424.1,53.80000000000018) scale(-1,1)"><circle cx="0" cy="0" r="7.4"/><rect x="12.8" y="-7.5" width="700" height="15" rx="7.5"/><rect x="42.5" y="-22.5" width="700" height="24" rx="7.5"/><rect x="113" y="-37.5" width="700" height="24" rx="7.3"/><circle cx="102.3" cy="-29.6" r="7.4"/><path d="M35.5,-7.5 L43.5,-7.5 L43.5,-14 A7,7 0 0 1 35.5,-7.5 Z"/></g><circle cx="33.4" cy="52.90000000000009" r="7.3" fill="#74bd9c"/><circle cx="351.8" cy="52.90000000000009" r="7.3" fill="#74bd9c"/><rect x="47.3" y="45.69999999999982" width="292.09999999999997" height="14.700000000000273" rx="7.350000000000136" fill="#74bd9c"/><rect x="75.3" y="58" width="233.5" height="14.599999999999909" rx="7.2999999999999545" fill="#74bd9c"/><rect x="84" y="52" width="216" height="12" fill="#74bd9c"/></svg>
<svg style="position:absolute;left:0px;top:2820px;overflow:visible" width="650" height="207" viewBox="0 0 650 207" ><rect x="71" y="19.50" width="534" height="1" fill="#e4e4e4"/><rect x="71" y="54.90" width="534" height="1" fill="#e4e4e4"/><rect x="71" y="90.30" width="534" height="1" fill="#e4e4e4"/><rect x="71" y="125.70" width="534" height="1" fill="#e4e4e4"/><rect x="71" y="161.10" width="534" height="1" fill="#e4e4e4"/><rect x="70.5" y="20.00" width="1" height="177.00" fill="#ccc"/><rect x="70.5" y="196.50" width="534.5" height="1.2" fill="#c4c4c4"/><rect x="85.25" y="191.69" width="16" height="5.31" fill="#66b488"/><rect x="129.75" y="175.76" width="16" height="21.24" fill="#66b488"/><rect x="174.25" y="182.84" width="16" height="14.16" fill="#66b488"/><rect x="218.75" y="179.30" width="16" height="17.70" fill="#66b488"/><rect x="263.25" y="188.15" width="16" height="8.85" fill="#66b488"/><rect x="307.75" y="181.07" width="16" height="15.93" fill="#66b488"/><rect x="352.25" y="179.30" width="16" height="17.70" fill="#66b488"/><rect x="396.75" y="133.28" width="16" height="63.72" fill="#66b488"/><rect x="441.25" y="195.80" width="16" height="1.20" fill="#66b488"/><rect x="485.75" y="170.45" width="16" height="26.55" fill="#66b488"/><rect x="530.25" y="193.46" width="16" height="3.54" fill="#66b488"/><rect x="574.75" y="195.23" width="16" height="1.77" fill="#66b488"/></svg>
<svg style="position:absolute;left:0px;top:3100px;overflow:visible" width="650" height="80" viewBox="0 0 650 80" ><g fill="#9163f2" transform="translate(229.8,57.30000000000018) scale(1,1)"><circle cx="0" cy="0" r="7.4"/><rect x="12.8" y="-7.5" width="700" height="15" rx="7.5"/><rect x="42.5" y="-22.5" width="700" height="24" rx="7.5"/><rect x="113" y="-37.5" width="700" height="24" rx="7.3"/><circle cx="102.3" cy="-29.6" r="7.4"/><path d="M35.5,-7.5 L43.5,-7.5 L43.5,-14 A7,7 0 0 1 35.5,-7.5 Z"/></g><circle cx="318.4" cy="49.59999999999991" r="7.4" fill="#c09cfa"/><rect x="331.9" y="42" width="252.89999999999998" height="15.400000000000091" rx="7.7000000000000455" fill="#c09cfa"/><rect x="364.2" y="29.699999999999818" width="192.8" height="15.0" rx="7.5" fill="#c09cfa"/><rect x="372" y="37" width="178" height="12" fill="#c09cfa"/><circle cx="598.6" cy="49.5" r="7.4" fill="#c09cfa"/></svg>
<svg style="position:absolute;left:0px;top:3203px;overflow:visible" width="650" height="206" viewBox="0 0 650 206" ><rect x="71" y="19.90" width="534" height="1" fill="#e4e4e4"/><rect x="71" y="55.18" width="534" height="1" fill="#e4e4e4"/><rect x="71" y="90.46" width="534" height="1" fill="#e4e4e4"/><rect x="71" y="125.74" width="534" height="1" fill="#e4e4e4"/><rect x="71" y="161.02" width="534" height="1" fill="#e4e4e4"/><rect x="70.5" y="20.40" width="1" height="176.40" fill="#ccc"/><rect x="70.5" y="196.30" width="534.5" height="1.2" fill="#c4c4c4"/><rect x="92.67" y="184.45" width="16" height="12.35" fill="#7b68e0"/><rect x="152.00" y="191.51" width="16" height="5.29" fill="#7b68e0"/><rect x="211.33" y="186.22" width="16" height="10.58" fill="#7b68e0"/><rect x="270.67" y="182.69" width="16" height="14.11" fill="#7b68e0"/><rect x="330.00" y="186.22" width="16" height="10.58" fill="#7b68e0"/><rect x="389.33" y="177.40" width="16" height="19.40" fill="#7b68e0"/><rect x="448.67" y="154.46" width="16" height="42.34" fill="#7b68e0"/><rect x="508.00" y="108.60" width="16" height="88.20" fill="#7b68e0"/><rect x="567.33" y="182.69" width="16" height="14.11" fill="#7b68e0"/></svg>
<svg style="position:absolute;left:0px;top:3470px;overflow:visible" width="650" height="80" viewBox="0 0 650 80" ><g fill="#f0c36d" transform="translate(291.6,24.5) scale(-1,-1)"><circle cx="0" cy="0" r="7.4"/><rect x="12.8" y="-7.5" width="700" height="15" rx="7.5"/><rect x="42.5" y="-22.5" width="700" height="24" rx="7.5"/><rect x="113" y="-37.5" width="700" height="24" rx="7.3"/><circle cx="102.3" cy="-29.6" r="7.4"/><path d="M35.5,-7.5 L43.5,-7.5 L43.5,-14 A7,7 0 0 1 35.5,-7.5 Z"/></g><rect x="-30" y="32" width="215" height="15.400000000000091" rx="7.7000000000000455" fill="#fbd68f"/><rect x="-30" y="44" width="188" height="16" rx="8.0" fill="#fbd68f"/><rect x="-10" y="38" width="160" height="14" fill="#fbd68f"/><circle cx="201" cy="39.30000000000018" r="7.6" fill="#fbd68f"/></svg>
<svg style="position:absolute;left:0px;top:3700px;overflow:visible" width="650" height="80" viewBox="0 0 650 80" ><g fill="#f6f6f6"><rect x="525.8" y="24.199999999999818" width="400" height="27.6" rx="6.9"/><rect x="546.8" y="51.79999999999982" width="400" height="13.8" rx="6.9"/><rect x="546.8" y="44.19999999999982" width="60" height="10"/><circle cx="535.4" cy="58.69999999999982" r="6.8"/><path d="M584.9,37.999999999999815 L630.1999999999999,37.999999999999815 A6.9,6.9 0 0 0 630.1999999999999,51.79999999999982 L584.9,51.79999999999982 A6.9,6.9 0 0 0 584.9,37.999999999999815 Z" fill="#fff"/></g></svg>
<svg style="position:absolute;left:0px;top:3559.7px;overflow:visible" width="650" height="100" viewBox="0 0 650 100" ><circle cx="106.6" cy="29.5" r="10.9" fill="#f9d68e"/><circle cx="49.300000000000004" cy="70.6" r="8" fill="#f9d68e"/><circle cx="77.2" cy="50" r="32.2" fill="#f0c570"/></svg>
<svg style="position:absolute;left:0px;top:3559.7px;overflow:visible" width="650" height="100" viewBox="0 0 650 100" ><circle cx="179.4" cy="27" r="8.5" fill="#f9d68e"/><circle cx="230.9" cy="67.2" r="11" fill="#f9d68e"/><circle cx="202.3" cy="50" r="32.2" fill="#f0c570"/></svg>
<svg style="position:absolute;left:0px;top:3559.7px;overflow:visible" width="650" height="100" viewBox="0 0 650 100" ><circle cx="304.0" cy="29" r="9" fill="#f9d68e"/><circle cx="354.9" cy="31" r="10" fill="#f9d68e"/><circle cx="304.0" cy="70.5" r="7.5" fill="#f9d68e"/><circle cx="327.5" cy="50" r="32.2" fill="#f0c570"/></svg>
<svg style="position:absolute;left:0px;top:3559.7px;overflow:visible" width="650" height="100" viewBox="0 0 650 100" ><circle cx="479.0" cy="29" r="11" fill="#f9d68e"/><circle cx="429.4" cy="67.2" r="8" fill="#f9d68e"/><circle cx="451.7" cy="50" r="32.2" fill="#f0c570"/></svg>
<svg style="position:absolute;left:0px;top:3559.7px;overflow:visible" width="650" height="100" viewBox="0 0 650 100" ><circle cx="554.0" cy="29" r="9" fill="#f9d68e"/><circle cx="555.3" cy="69" r="8" fill="#f9d68e"/><circle cx="577.5" cy="50" r="32.2" fill="#f0c570"/></svg>
<svg style="position:absolute;left:0px;top:3689.6px;overflow:visible" width="650" height="100" viewBox="0 0 650 100" ><circle cx="104.89999999999999" cy="27.1" r="11" fill="#f9d68e"/><circle cx="53.99999999999999" cy="67.2" r="8" fill="#f9d68e"/><circle cx="77.6" cy="50" r="32.2" fill="#f0c570"/></svg>
<svg style="position:absolute;left:0px;top:3689.6px;overflow:visible" width="650" height="100" viewBox="0 0 650 100" ><circle cx="181.2" cy="27.1" r="8" fill="#f9d68e"/><circle cx="232.0" cy="67.2" r="11" fill="#f9d68e"/><circle cx="202.2" cy="50" r="32.2" fill="#f0c570"/></svg>
<svg style="position:absolute;left:0px;top:3689.6px;overflow:visible" width="650" height="100" viewBox="0 0 650 100" ><circle cx="304.5" cy="27.1" r="9" fill="#f9d68e"/><circle cx="356.6" cy="67.2" r="11" fill="#f9d68e"/><circle cx="328" cy="50" r="32.2" fill="#f0c570"/></svg>
<svg style="position:absolute;left:0px;top:3689.6px;overflow:visible" width="650" height="100" viewBox="0 0 650 100" ><circle cx="428.5" cy="27.1" r="9" fill="#f9d68e"/><circle cx="479.3" cy="29" r="11" fill="#f9d68e"/><circle cx="430.4" cy="69.1" r="7" fill="#f9d68e"/><circle cx="452" cy="50" r="32.2" fill="#f0c570"/></svg>
<svg style="position:absolute;left:0px;top:3830px;overflow:visible" width="650" height="260" viewBox="0 0 650 260" ><path d="M0,100 L0.0,15.12 L5.0,15.63 L10.0,16.17 L15.0,16.73 L20.0,17.31 L25.0,17.91 L30.0,18.51 L35.0,19.13 L40.0,19.75 L45.0,20.37 L50.0,20.99 L55.0,21.61 L60.0,22.21 L65.0,22.80 L70.0,23.38 L75.0,23.94 L80.0,24.47 L85.0,24.98 L90.0,25.46 L95.0,25.91 L100.0,26.32 L105.0,26.70 L110.0,27.04 L115.0,27.34 L120.0,27.59 L125.0,27.81 L130.0,27.97 L135.0,28.10 L140.0,28.17 L145.0,28.20 L150.0,28.18 L155.0,28.11 L160.0,28.00 L165.0,27.84 L170.0,27.64 L175.0,27.39 L180.0,27.10 L185.0,26.77 L190.0,26.40 L195.0,25.99 L200.0,25.55 L205.0,25.08 L210.0,24.58 L215.0,24.05 L220.0,23.49 L225.0,22.92 L230.0,22.33 L235.0,21.73 L240.0,21.12 L245.0,20.50 L250.0,19.88 L255.0,19.25 L260.0,18.64 L265.0,18.03 L270.0,17.43 L275.0,16.85 L280.0,16.28 L285.0,15.74 L290.0,15.22 L295.0,14.73 L300.0,14.27 L305.0,13.84 L310.0,13.45 L315.0,13.09 L320.0,12.78 L325.0,12.50 L330.0,12.27 L335.0,12.09 L340.0,11.95 L345.0,11.85 L350.0,11.81 L355.0,11.81 L360.0,11.85 L365.0,11.95 L370.0,12.09 L375.0,12.27 L380.0,12.50 L385.0,12.78 L390.0,13.09 L395.0,13.45 L400.0,13.84 L405.0,14.27 L410.0,14.73 L415.0,15.22 L420.0,15.74 L425.0,16.28 L430.0,16.85 L435.0,17.43 L440.0,18.03 L445.0,18.64 L450.0,19.25 L455.0,19.88 L460.0,20.50 L465.0,21.12 L470.0,21.73 L475.0,22.33 L480.0,22.92 L485.0,23.49 L490.0,24.05 L495.0,24.58 L500.0,25.08 L505.0,25.55 L510.0,25.99 L515.0,26.40 L520.0,26.77 L525.0,27.10 L530.0,27.39 L535.0,27.64 L540.0,27.84 L545.0,28.00 L550.0,28.11 L555.0,28.18 L560.0,28.20 L565.0,28.17 L570.0,28.10 L575.0,27.97 L580.0,27.81 L585.0,27.59 L590.0,27.34 L595.0,27.04 L600.0,26.70 L605.0,26.32 L610.0,25.91 L615.0,25.46 L620.0,24.98 L625.0,24.47 L630.0,23.94 L635.0,23.38 L640.0,22.80 L645.0,22.21 L650.0,21.61 L650,100 Z" fill="#e3aaa0"/><path d="M0,260 L0.0,24.88 L5.0,24.37 L10.0,23.83 L15.0,23.27 L20.0,22.69 L25.0,22.09 L30.0,21.49 L35.0,20.87 L40.0,20.25 L45.0,19.63 L50.0,19.01 L55.0,18.39 L60.0,17.79 L65.0,17.20 L70.0,16.62 L75.0,16.06 L80.0,15.53 L85.0,15.02 L90.0,14.54 L95.0,14.09 L100.0,13.68 L105.0,13.30 L110.0,12.96 L115.0,12.66 L120.0,12.41 L125.0,12.19 L130.0,12.03 L135.0,11.90 L140.0,11.83 L145.0,11.80 L150.0,11.82 L155.0,11.89 L160.0,12.00 L165.0,12.16 L170.0,12.36 L175.0,12.61 L180.0,12.90 L185.0,13.23 L190.0,13.60 L195.0,14.01 L200.0,14.45 L205.0,14.92 L210.0,15.42 L215.0,15.95 L220.0,16.51 L225.0,17.08 L230.0,17.67 L235.0,18.27 L240.0,18.88 L245.0,19.50 L250.0,20.12 L255.0,20.75 L260.0,21.36 L265.0,21.97 L270.0,22.57 L275.0,23.15 L280.0,23.72 L285.0,24.26 L290.0,24.78 L295.0,25.27 L300.0,25.73 L305.0,26.16 L310.0,26.55 L315.0,26.91 L320.0,27.22 L325.0,27.50 L330.0,27.73 L335.0,27.91 L340.0,28.05 L345.0,28.15 L350.0,28.19 L355.0,28.19 L360.0,28.15 L365.0,28.05 L370.0,27.91 L375.0,27.73 L380.0,27.50 L385.0,27.22 L390.0,26.91 L395.0,26.55 L400.0,26.16 L405.0,25.73 L410.0,25.27 L415.0,24.78 L420.0,24.26 L425.0,23.72 L430.0,23.15 L435.0,22.57 L440.0,21.97 L445.0,21.36 L450.0,20.75 L455.0,20.12 L460.0,19.50 L465.0,18.88 L470.0,18.27 L475.0,17.67 L480.0,17.08 L485.0,16.51 L490.0,15.95 L495.0,15.42 L500.0,14.92 L505.0,14.45 L510.0,14.01 L515.0,13.60 L520.0,13.23 L525.0,12.90 L530.0,12.61 L535.0,12.36 L540.0,12.16 L545.0,12.00 L550.0,11.89 L555.0,11.82 L560.0,11.80 L565.0,11.83 L570.0,11.90 L575.0,12.03 L580.0,12.19 L585.0,12.41 L590.0,12.66 L595.0,12.96 L600.0,13.30 L605.0,13.68 L610.0,14.09 L615.0,14.54 L620.0,15.02 L625.0,15.53 L630.0,16.06 L635.0,16.62 L640.0,17.20 L645.0,17.79 L650.0,18.39 L650,260 Z" fill="#bf8679"/></svg>
<svg style="position:absolute;left:254px;top:3866px;overflow:visible" width="42" height="44" viewBox="0 0 42 44" ><path d="M17.5,38.5 C9,31.5 2.8,25.5 2.8,17.5 C2.8,11.5 7,8 11.3,8 C14.6,8 16.6,10 17.8,12.3 C19,10 21.5,8.4 24.5,8.2" stroke="#fff" stroke-width="2.6" fill="none" stroke-linecap="round"/><path d="M32.2,14.5 C33.4,21.5 28,29.5 17.5,38.5" stroke="#fff" stroke-width="2.6" fill="none" stroke-linecap="round"/><path d="M38.5,1.8 C39.5,8.5 36.5,15 29,15.4 C26.8,15.5 25.3,15 24.2,14 C23,9.5 26,6 30.5,5 C34,4.2 36.8,3.6 38.5,1.8 Z" fill="#fff"/></svg>
<div style="position:absolute;left:253.8px;top:3947.2px;width:143px;height:1.2px;background:#f3dcd6"></div>
<svg style="position:absolute;left:284px;top:4004px;overflow:visible" width="82" height="52" viewBox="0 0 82 52" ><rect x="10.2" y="3.6" width="53.7" height="31.4" rx="2.5" fill="none" stroke="#fff" stroke-width="2.2"/><rect x="21.7" y="35" width="30.7" height="7" fill="#fff"/><path d="M32.5,42 L41.5,42 L43,46.5 L47,47 L47,48.6 L27,48.6 L27,47 L31,46.5 Z" fill="#fff"/><circle cx="37" cy="38.5" r="1.2" fill="#bf8679"/><rect x="0.2" y="21.8" width="20.4" height="29.8" rx="2.8" fill="#bf8679"/><rect x="2.6" y="24.2" width="15.7" height="25" rx="2.2" fill="#fff"/><rect x="5.2" y="28.4" width="10.4" height="15.6" fill="#bf8679"/><circle cx="10.4" cy="46.6" r="1.1" fill="#bf8679"/><rect x="51.4" y="13.6" width="28.8" height="38" rx="3" fill="#bf8679"/><rect x="53.7" y="16" width="24.1" height="33.2" rx="2.4" fill="#fff"/><rect x="57" y="20" width="17.5" height="22" fill="#bf8679"/><circle cx="65.7" cy="45.6" r="1.1" fill="#bf8679"/></svg>
<div class="t" style="left:116.20px;top:176.05px;font-size:42.7px;font-weight:700;color:#c08678;transform:scaleX(1.0597);transform-origin:0 0;-webkit-text-stroke:0.5px #c08678;">WHITING, COATED,</div>
<div class="t" style="left:68.70px;top:226.05px;font-size:42.7px;font-weight:700;color:#c08678;transform:scaleX(1.0508);transform-origin:0 0;-webkit-text-stroke:0.5px #c08678;">FRIED, MADE WITHOUT</div>
<div class="t" style="left:283.28px;top:276.05px;font-size:42.7px;font-weight:700;color:#c08678;letter-spacing:1.038px;transform:scaleX(1.0600);transform-origin:0 0;-webkit-text-stroke:0.5px #c08678;">FAT</div>
<div class="t" style="left:208.20px;top:335.66px;font-size:19.3px;font-weight:400;color:#4c4c4c;letter-spacing:0.469px;transform:scaleX(1.0600);transform-origin:0 0;-webkit-text-stroke:0.4px #fff;">Small Fillet (113 g / 4 oz)</div>
<div class="t" style="left:29.68px;top:447.92px;font-size:33.4px;font-weight:700;color:#fff;transform:scaleX(1.0591);transform-origin:0 0;">KEY FACTS</div>
<div class="t" style="left:29.97px;top:485.44px;font-size:19.2px;font-weight:400;color:#fff;transform:scaleX(1.0308);transform-origin:0 0;-webkit-text-stroke:0.35px #bf8679;">LEARN ABOUT HEALTH BENEFITS OR RISKS</div>
<div class="t" style="left:60.68px;top:540.98px;font-size:30.5px;font-weight:700;color:#fff;transform:scaleX(1.0102);transform-origin:0 0;">MEDIUM</div>
<div class="t" style="left:30.04px;top:571.73px;font-size:23px;font-weight:400;color:#fff;transform:scaleX(0.9611);transform-origin:0 0;-webkit-text-stroke:0.35px #e3aaa0;">CALORIE DENSITY</div>
<div class="t" style="left:560.87px;top:541.26px;font-size:37.6px;font-weight:700;color:#fff;transform:scaleX(1.1634);transform-origin:0 0;">1.3</div>
<div class="t" style="left:487.60px;top:579.52px;font-size:13.2px;font-weight:700;color:#fff;letter-spacing:-0.087px;transform:scaleX(0.9400);transform-origin:0 0;">CALORIES PER GRAM</div>
<div class="t" style="left:30.80px;top:607.25px;font-size:17.3px;font-weight:400;color:#fff;letter-spacing:0.016px;transform:scaleX(1.0600);transform-origin:0 0;-webkit-text-stroke:0.3px #bf8679;">The amount of calories you are getting from 1 gram is moderate.</div>
<div class="t" style="left:60.68px;top:661.18px;font-size:30.5px;font-weight:700;color:#fff;transform:scaleX(1.0102);transform-origin:0 0;">MEDIUM</div>
<div class="t" style="left:30.04px;top:691.93px;font-size:23px;font-weight:400;color:#fff;transform:scaleX(0.9612);transform-origin:0 0;-webkit-text-stroke:0.35px #e3aaa0;">RISKY CONTENT DENSITY</div>
<div class="t" style="left:554.82px;top:661.46px;font-size:37.6px;font-weight:700;color:#fff;transform:scaleX(1.2813);transform-origin:0 0;">0.5</div>
<div class="t" style="left:520.40px;top:699.72px;font-size:13.2px;font-weight:700;color:#fff;letter-spacing:-0.155px;transform:scaleX(0.9400);transform-origin:0 0;">% DV PER GRAM</div>
<div class="t" style="left:29.74px;top:727.45px;font-size:17.3px;font-weight:400;color:#fff;letter-spacing:0.075px;transform:scaleX(1.0600);transform-origin:0 0;-webkit-text-stroke:0.3px #bf8679;">Risky Content density is the relationship of bad components</div>
<div class="t" style="left:29.76px;top:751.85px;font-size:17.3px;font-weight:400;color:#fff;transform:scaleX(1.0446);transform-origin:0 0;-webkit-text-stroke:0.3px #bf8679;">(Cholesterol, Saturated Fat, Sugars &amp; Sodium) to the amount (%DV/gr).</div>
<div class="t" style="left:60.70px;top:805.68px;font-size:30.5px;font-weight:700;color:#fff;">RICH  IN</div>
<div class="t" style="left:31.00px;top:836.43px;font-size:23px;font-weight:400;color:#fff;transform:scaleX(0.9751);transform-origin:0 0;-webkit-text-stroke:0.35px #e3aaa0;">VITAMINS &amp; MINERALS</div>
<div class="t" style="left:566.27px;top:805.96px;font-size:37.6px;font-weight:700;color:#fff;transform:scaleX(1.3283);transform-origin:0 0;">26</div>
<div class="t" style="left:502.60px;top:844.22px;font-size:13.2px;font-weight:700;color:#fff;letter-spacing:-0.145px;transform:scaleX(0.9400);transform-origin:0 0;">% DV PER CALORIE</div>
<div class="t" style="left:30.80px;top:871.95px;font-size:17.3px;font-weight:400;color:#fff;letter-spacing:0.046px;transform:scaleX(1.0600);transform-origin:0 0;-webkit-text-stroke:0.3px #bf8679;">A good source of Selenium (important for the stimulation of</div>
<div class="t" style="left:30.80px;top:896.35px;font-size:17.3px;font-weight:400;color:#fff;transform:scaleX(1.0572);transform-origin:0 0;-webkit-text-stroke:0.3px #bf8679;">antibodies), Vitamin B12 (helps prevent Alzheimer's disease) and</div>
<div class="t" style="left:29.74px;top:920.75px;font-size:17.3px;font-weight:400;color:#fff;letter-spacing:0.125px;transform:scaleX(1.0600);transform-origin:0 0;-webkit-text-stroke:0.3px #bf8679;">Phosphorus (helps provide effective digestion).</div>
<div class="t" style="left:28.76px;top:1014.06px;font-size:42.8px;font-weight:700;color:#3d7cb0;transform:scaleX(1.0203);transform-origin:0 0;">149 CALORIES</div>
<div class="t" style="left:30.80px;top:1065.31px;font-size:24.2px;font-weight:700;color:#85b5de;transform:scaleX(1.0472);transform-origin:0 0;">25 FROM FAT</div>
<div class="t" style="left:50.02px;top:1133.97px;font-size:21.3px;font-weight:400;color:#6e6e6e;transform:scaleX(0.9770);transform-origin:0 0;-webkit-text-stroke:0.65px #fff;">CARBOHYDRATES: 10 g</div>
<div class="t" style="left:51.00px;top:1158.28px;font-size:28.6px;font-weight:700;color:#6a6a6a;letter-spacing:1.017px;transform:scaleX(1.0600);transform-origin:0 0;">3.4% DV</div>
<div class="t" style="left:50.06px;top:1215.47px;font-size:21.3px;font-weight:400;color:#6e6e6e;transform:scaleX(0.9411);transform-origin:0 0;-webkit-text-stroke:0.65px #f4f4f4;">PROTEIN: 19 g</div>
<div class="t" style="left:51.00px;top:1239.78px;font-size:28.6px;font-weight:700;color:#6a6a6a;letter-spacing:1.300px;transform:scaleX(1.0600);transform-origin:0 0;">38% DV</div>
<div class="t" style="left:50.02px;top:1297.47px;font-size:21.3px;font-weight:400;color:#6e6e6e;transform:scaleX(0.9800);transform-origin:0 0;-webkit-text-stroke:0.65px #fff;">DIETARY FIBER: 0.6 g</div>
<div class="t" style="left:51.00px;top:1321.78px;font-size:28.6px;font-weight:700;color:#6a6a6a;letter-spacing:1.803px;transform:scaleX(1.0600);transform-origin:0 0;">2.3% DV</div>
<div class="t" style="left:376.20px;top:1297.47px;font-size:21.3px;font-weight:400;color:#6e6e6e;transform:scaleX(1.0509);transform-origin:0 0;-webkit-text-stroke:0.65px #f4f4f4;">TOTAL FAT: 2.8 g</div>
<div class="t" style="left:376.20px;top:1321.78px;font-size:28.6px;font-weight:700;color:#6a6a6a;letter-spacing:1.174px;transform:scaleX(1.0600);transform-origin:0 0;">4.5% DV</div>
<div class="t" style="left:289.88px;top:1391.02px;font-size:42.5px;font-weight:700;color:#e9a77c;transform:scaleX(1.0595);transform-origin:0 0;">HEALTHY FATS</div>
<div class="t" style="left:179.48px;top:1441.84px;font-size:24.4px;font-weight:400;color:#e6a176;transform:scaleX(1.0197);transform-origin:0 0;-webkit-text-stroke:0.75px #fff;">SOME FATS MAY BE GOOD FOR YOU</div>
<div class="t" style="left:100.50px;top:1507.07px;font-size:28.5px;font-weight:700;color:#fff;">1</div>
<div class="t" style="left:88.20px;top:1535.93px;font-size:16.5px;font-weight:400;color:#fff;letter-spacing:-0.334px;transform:scaleX(0.9400);transform-origin:0 0;">grams</div>
<div class="t" style="left:59.11px;top:1579.97px;font-size:23.3px;font-weight:400;color:#484848;transform:scaleX(1.0408);transform-origin:0 0;-webkit-text-stroke:0.7px #fff;">Omega 3</div>
<div class="t" style="left:301.78px;top:1507.07px;font-size:28.5px;font-weight:700;color:#fff;transform:scaleX(1.2179);transform-origin:0 0;">0.2</div>
<div class="t" style="left:305.20px;top:1535.93px;font-size:16.5px;font-weight:400;color:#fff;letter-spacing:-0.334px;transform:scaleX(0.9400);transform-origin:0 0;">grams</div>
<div class="t" style="left:275.45px;top:1579.97px;font-size:23.3px;font-weight:400;color:#484848;transform:scaleX(1.0546);transform-origin:0 0;-webkit-text-stroke:0.7px #fff;">Omega 6</div>
<div class="t" style="left:518.28px;top:1507.07px;font-size:28.5px;font-weight:700;color:#fff;transform:scaleX(1.2179);transform-origin:0 0;">0.8</div>
<div class="t" style="left:521.70px;top:1535.93px;font-size:16.5px;font-weight:400;color:#fff;letter-spacing:-0.334px;transform:scaleX(0.9400);transform-origin:0 0;">grams</div>
<div class="t" style="left:502.97px;top:1579.97px;font-size:23.3px;font-weight:400;color:#484848;transform:scaleX(1.0306);transform-origin:0 0;-webkit-text-stroke:0.7px #fff;">MUFAs</div>
<div class="t" style="left:30.64px;top:1683.44px;font-size:42px;font-weight:700;color:#c1696c;transform:scaleX(1.0318);transform-origin:0 0;">HIGH RISK</div>
<div class="t" style="left:31.70px;top:1731.94px;font-size:24.4px;font-weight:400;color:#c46f72;transform:scaleX(0.9969);transform-origin:0 0;-webkit-text-stroke:0.8px #fff;">COMPONENTS</div>
<div class="t" style="left:45.50px;top:1867.94px;font-size:24.4px;font-weight:400;color:#646464;transform:scaleX(1.0176);transform-origin:0 0;-webkit-text-stroke:0.75px #fff;">ADDED SUGAR - 0 g</div>
<div class="t" style="left:110.44px;top:1894.62px;font-size:29.5px;font-weight:700;color:#6a6a6a;letter-spacing:1.980px;transform:scaleX(1.0600);transform-origin:0 0;">0% DV</div>
<div class="t" style="left:385.82px;top:1867.94px;font-size:24.4px;font-weight:400;color:#646464;transform:scaleX(1.0317);transform-origin:0 0;-webkit-text-stroke:0.75px #fff;">SODIUM - 407 mg</div>
<div class="t" style="left:433.49px;top:1894.62px;font-size:29.5px;font-weight:700;color:#6a6a6a;transform:scaleX(1.0135);transform-origin:0 0;">17% DV</div>
<div class="t" style="left:22.82px;top:2028.04px;font-size:24.4px;font-weight:400;color:#646464;transform:scaleX(1.0305);transform-origin:0 0;-webkit-text-stroke:0.75px #fff;">CHOLESTEROL - 96 mg</div>
<div class="t" style="left:104.40px;top:2054.72px;font-size:29.5px;font-weight:700;color:#6a6a6a;letter-spacing:0.103px;transform:scaleX(1.0600);transform-origin:0 0;">33% DV</div>
<div class="t" style="left:395.04px;top:2028.04px;font-size:24.4px;font-weight:400;color:#646464;letter-spacing:0.232px;transform:scaleX(1.0600);transform-origin:0 0;-webkit-text-stroke:0.75px #fff;">SAT. FAT - 0.7 g</div>
<div class="t" style="left:424.00px;top:2054.72px;font-size:29.5px;font-weight:700;color:#6a6a6a;letter-spacing:1.141px;transform:scaleX(1.0600);transform-origin:0 0;">3.4% DV</div>
<div class="t" style="left:30.34px;top:2137.59px;font-size:43px;font-weight:700;color:#efa57b;letter-spacing:0.971px;transform:scaleX(1.0600);transform-origin:0 0;">GLYCEMIC INDEX</div>
<div class="t" style="left:30.46px;top:2186.85px;font-size:23.8px;font-weight:400;color:#eea67d;letter-spacing:-0.250px;transform:scaleX(0.9400);transform-origin:0 0;-webkit-text-stroke:0.8px #fff;">ESTIMATED FOR THIS FOOD</div>
<div class="t" style="left:489.14px;top:2235.30px;font-size:21.5px;font-weight:700;color:#777;letter-spacing:0.517px;transform:scaleX(1.0600);transform-origin:0 0;">HIGH</div>
<div class="t" style="left:560.74px;top:2234.03px;font-size:23px;font-weight:400;color:#8a8a8a;letter-spacing:0.548px;transform:scaleX(1.0600);transform-origin:0 0;-webkit-text-stroke:0.8px #fff;">95</div>
<div class="t" style="left:42.60px;top:2323.21px;font-size:19px;font-weight:400;color:#303030;-webkit-text-stroke:0.35px #fff;">0</div>
<div class="t" style="left:176.75px;top:2323.21px;font-size:19px;font-weight:400;color:#303030;transform:scaleX(0.9967);transform-origin:0 0;-webkit-text-stroke:0.35px #fff;">25</div>
<div class="t" style="left:315.50px;top:2323.21px;font-size:19px;font-weight:400;color:#303030;transform:scaleX(1.0211);transform-origin:0 0;-webkit-text-stroke:0.35px #fff;">50</div>
<div class="t" style="left:459.55px;top:2323.21px;font-size:19px;font-weight:400;color:#303030;transform:scaleX(0.9967);transform-origin:0 0;-webkit-text-stroke:0.35px #fff;">75</div>
<div class="t" style="left:581.13px;top:2323.21px;font-size:19px;font-weight:400;color:#303030;transform:scaleX(0.9690);transform-origin:0 0;-webkit-text-stroke:0.35px #fff;">100</div>
<div class="t" style="left:28.02px;top:2421.65px;font-size:28.4px;font-weight:400;color:#3a8294;transform:scaleX(0.9925);transform-origin:0 0;-webkit-text-stroke:0.9px #fff;">HOW TO BURN</div>
<div class="t" style="left:29.60px;top:2450.64px;font-size:33.5px;font-weight:700;color:#3b8399;transform:scaleX(0.9911);transform-origin:0 0;">THOSE CALORIES</div>
<div class="t" style="left:44.30px;top:2626.66px;font-size:19.3px;font-weight:400;color:#6c6c6c;letter-spacing:0.405px;transform:scaleX(1.0600);transform-origin:0 0;-webkit-text-stroke:0.5px #fff;">Jogging</div>
<div class="t" style="left:49.44px;top:2653.19px;font-size:18.2px;font-weight:700;color:#666;letter-spacing:0.408px;transform:scaleX(1.0600);transform-origin:0 0;">17 min</div>
<div class="t" style="left:203.85px;top:2626.66px;font-size:19.3px;font-weight:400;color:#6c6c6c;transform:scaleX(1.0462);transform-origin:0 0;-webkit-text-stroke:0.5px #fff;">Pet Care</div>
<div class="t" style="left:211.80px;top:2653.19px;font-size:18.2px;font-weight:700;color:#666;letter-spacing:0.774px;transform:scaleX(1.0600);transform-origin:0 0;">60 min</div>
<div class="t" style="left:337.30px;top:2626.66px;font-size:19.3px;font-weight:400;color:#6c6c6c;letter-spacing:0.084px;transform:scaleX(1.0600);transform-origin:0 0;-webkit-text-stroke:0.5px #fff;">Climbing Stairs</div>
<div class="t" style="left:374.30px;top:2653.19px;font-size:18.2px;font-weight:700;color:#666;letter-spacing:0.774px;transform:scaleX(1.0600);transform-origin:0 0;">32 min</div>
<div class="t" style="left:534.80px;top:2626.66px;font-size:19.3px;font-weight:400;color:#6c6c6c;letter-spacing:0.276px;transform:scaleX(1.0600);transform-origin:0 0;-webkit-text-stroke:0.5px #fff;">Cycling</div>
<div class="t" style="left:538.30px;top:2653.19px;font-size:18.2px;font-weight:700;color:#666;letter-spacing:0.208px;transform:scaleX(1.0600);transform-origin:0 0;">21 min</div>
<div class="t" style="left:404.00px;top:2717.22px;font-size:42.5px;font-weight:700;color:#4faa7c;letter-spacing:0.678px;transform:scaleX(1.0600);transform-origin:0 0;">VITAMINS</div>
<div class="t" style="left:443.51px;top:2764.59px;font-size:18.2px;font-weight:400;color:#55aa80;transform:scaleX(0.9935);transform-origin:0 0;-webkit-text-stroke:0.55px #fff;">(% OF DAILY VALUE)</div>
<div class="t" style="left:88.25px;top:2984.85px;font-size:19.3px;font-weight:400;color:#4f9f75;-webkit-text-stroke:0.6px #fff;">3</div>
<div class="t" style="left:86.25px;top:3025.60px;font-size:19.6px;font-weight:400;color:#585858;-webkit-text-stroke:0.5px #fff;">A</div>
<div class="t" style="left:126.89px;top:2968.92px;font-size:19.3px;font-weight:400;color:#4f9f75;-webkit-text-stroke:0.6px #fff;">12</div>
<div class="t" style="left:125.72px;top:3025.60px;font-size:19.6px;font-weight:400;color:#585858;-webkit-text-stroke:0.5px #fff;">B1</div>
<div class="t" style="left:177.25px;top:2976.00px;font-size:19.3px;font-weight:400;color:#4f9f75;-webkit-text-stroke:0.6px #fff;">8</div>
<div class="t" style="left:170.22px;top:3025.60px;font-size:19.6px;font-weight:400;color:#585858;-webkit-text-stroke:0.5px #fff;">B2</div>
<div class="t" style="left:215.89px;top:2972.46px;font-size:19.3px;font-weight:400;color:#4f9f75;-webkit-text-stroke:0.6px #fff;">10</div>
<div class="t" style="left:214.22px;top:3025.60px;font-size:19.6px;font-weight:400;color:#585858;-webkit-text-stroke:0.5px #fff;">B3</div>
<div class="t" style="left:266.25px;top:2981.31px;font-size:19.3px;font-weight:400;color:#4f9f75;-webkit-text-stroke:0.6px #fff;">5</div>
<div class="t" style="left:258.72px;top:3025.60px;font-size:19.6px;font-weight:400;color:#585858;-webkit-text-stroke:0.5px #fff;">B5</div>
<div class="t" style="left:310.75px;top:2974.23px;font-size:19.3px;font-weight:400;color:#4f9f75;-webkit-text-stroke:0.6px #fff;">9</div>
<div class="t" style="left:303.22px;top:3025.60px;font-size:19.6px;font-weight:400;color:#585858;-webkit-text-stroke:0.5px #fff;">B6</div>
<div class="t" style="left:349.39px;top:2972.46px;font-size:19.3px;font-weight:400;color:#4f9f75;-webkit-text-stroke:0.6px #fff;">10</div>
<div class="t" style="left:348.22px;top:3025.60px;font-size:19.6px;font-weight:400;color:#585858;-webkit-text-stroke:0.5px #fff;">B9</div>
<div class="t" style="left:394.39px;top:2926.44px;font-size:19.3px;font-weight:400;color:#4f9f75;-webkit-text-stroke:0.6px #fff;">36</div>
<div class="t" style="left:387.27px;top:3025.60px;font-size:19.6px;font-weight:400;color:#585858;-webkit-text-stroke:0.5px #fff;">B12</div>
<div class="t" style="left:444.25px;top:2990.16px;font-size:19.3px;font-weight:400;color:#4f9f75;-webkit-text-stroke:0.6px #fff;">0</div>
<div class="t" style="left:441.75px;top:3025.60px;font-size:19.6px;font-weight:400;color:#585858;-webkit-text-stroke:0.5px #fff;">C</div>
<div class="t" style="left:482.89px;top:2963.61px;font-size:19.3px;font-weight:400;color:#4f9f75;-webkit-text-stroke:0.6px #fff;">15</div>
<div class="t" style="left:486.25px;top:3025.60px;font-size:19.6px;font-weight:400;color:#585858;-webkit-text-stroke:0.5px #fff;">D</div>
<div class="t" style="left:533.25px;top:2986.62px;font-size:19.3px;font-weight:400;color:#4f9f75;-webkit-text-stroke:0.6px #fff;">2</div>
<div class="t" style="left:531.25px;top:3025.60px;font-size:19.6px;font-weight:400;color:#585858;-webkit-text-stroke:0.5px #fff;">E</div>
<div class="t" style="left:577.25px;top:2988.39px;font-size:19.3px;font-weight:400;color:#4f9f75;-webkit-text-stroke:0.6px #fff;">1</div>
<div class="t" style="left:575.75px;top:3025.60px;font-size:19.6px;font-weight:400;color:#585858;-webkit-text-stroke:0.5px #fff;">K</div>
<div class="t" style="left:29.21px;top:2830.20px;font-size:19.6px;font-weight:400;color:#6c6c6c;-webkit-text-stroke:0.5px #fff;">100</div>
<div class="t" style="left:40.10px;top:2865.60px;font-size:19.6px;font-weight:400;color:#6c6c6c;-webkit-text-stroke:0.5px #fff;">80</div>
<div class="t" style="left:40.10px;top:2901.00px;font-size:19.6px;font-weight:400;color:#6c6c6c;-webkit-text-stroke:0.5px #fff;">60</div>
<div class="t" style="left:40.10px;top:2936.40px;font-size:19.6px;font-weight:400;color:#6c6c6c;-webkit-text-stroke:0.5px #fff;">40</div>
<div class="t" style="left:40.10px;top:2971.80px;font-size:19.6px;font-weight:400;color:#6c6c6c;-webkit-text-stroke:0.5px #fff;">20</div>
<div class="t" style="left:51.00px;top:3007.20px;font-size:19.6px;font-weight:400;color:#6c6c6c;-webkit-text-stroke:0.5px #fff;">0</div>
<div class="t" style="left:29.75px;top:3099.52px;font-size:42.5px;font-weight:700;color:#7a6fd8;transform:scaleX(1.0270);transform-origin:0 0;">MINERALS</div>
<div class="t" style="left:30.80px;top:3147.89px;font-size:18.2px;font-weight:400;color:#7d72d8;transform:scaleX(1.0020);transform-origin:0 0;-webkit-text-stroke:0.55px #fff;">(% OF DAILY VALUE)</div>
<div class="t" style="left:95.67px;top:3360.61px;font-size:19.3px;font-weight:400;color:#7267d6;-webkit-text-stroke:0.6px #fff;">7</div>
<div class="t" style="left:87.59px;top:3409.70px;font-size:19.6px;font-weight:400;color:#585858;-webkit-text-stroke:0.5px #fff;">Ca</div>
<div class="t" style="left:155.00px;top:3367.67px;font-size:19.3px;font-weight:400;color:#7267d6;-webkit-text-stroke:0.6px #fff;">3</div>
<div class="t" style="left:147.43px;top:3409.70px;font-size:19.6px;font-weight:400;color:#585858;-webkit-text-stroke:0.5px #fff;">Cu</div>
<div class="t" style="left:214.33px;top:3362.37px;font-size:19.3px;font-weight:400;color:#7267d6;-webkit-text-stroke:0.6px #fff;">6</div>
<div class="t" style="left:207.35px;top:3409.70px;font-size:19.6px;font-weight:400;color:#585858;-webkit-text-stroke:0.5px #fff;">Fe</div>
<div class="t" style="left:273.67px;top:3358.85px;font-size:19.3px;font-weight:400;color:#7267d6;-webkit-text-stroke:0.6px #fff;">8</div>
<div class="t" style="left:271.67px;top:3409.70px;font-size:19.6px;font-weight:400;color:#585858;-webkit-text-stroke:0.5px #fff;">K</div>
<div class="t" style="left:333.00px;top:3362.37px;font-size:19.3px;font-weight:400;color:#7267d6;-webkit-text-stroke:0.6px #fff;">6</div>
<div class="t" style="left:324.34px;top:3409.70px;font-size:19.6px;font-weight:400;color:#585858;-webkit-text-stroke:0.5px #fff;">Mg</div>
<div class="t" style="left:387.19px;top:3353.55px;font-size:19.3px;font-weight:400;color:#7267d6;-webkit-text-stroke:0.6px #fff;">11</div>
<div class="t" style="left:383.67px;top:3409.70px;font-size:19.6px;font-weight:400;color:#585858;-webkit-text-stroke:0.5px #fff;">Mn</div>
<div class="t" style="left:445.81px;top:3330.62px;font-size:19.3px;font-weight:400;color:#7267d6;-webkit-text-stroke:0.6px #fff;">24</div>
<div class="t" style="left:449.67px;top:3409.70px;font-size:19.6px;font-weight:400;color:#585858;-webkit-text-stroke:0.5px #fff;">P</div>
<div class="t" style="left:505.64px;top:3284.76px;font-size:19.3px;font-weight:400;color:#7267d6;-webkit-text-stroke:0.6px #fff;">50</div>
<div class="t" style="left:503.97px;top:3409.70px;font-size:19.6px;font-weight:400;color:#585858;-webkit-text-stroke:0.5px #fff;">Se</div>
<div class="t" style="left:570.33px;top:3358.85px;font-size:19.3px;font-weight:400;color:#7267d6;-webkit-text-stroke:0.6px #fff;">8</div>
<div class="t" style="left:564.35px;top:3409.70px;font-size:19.6px;font-weight:400;color:#585858;-webkit-text-stroke:0.5px #fff;">Zn</div>
<div class="t" style="left:29.21px;top:3213.60px;font-size:19.6px;font-weight:400;color:#6c6c6c;-webkit-text-stroke:0.5px #fff;">100</div>
<div class="t" style="left:40.10px;top:3248.88px;font-size:19.6px;font-weight:400;color:#6c6c6c;-webkit-text-stroke:0.5px #fff;">80</div>
<div class="t" style="left:40.10px;top:3284.16px;font-size:19.6px;font-weight:400;color:#6c6c6c;-webkit-text-stroke:0.5px #fff;">60</div>
<div class="t" style="left:40.10px;top:3319.44px;font-size:19.6px;font-weight:400;color:#6c6c6c;-webkit-text-stroke:0.5px #fff;">40</div>
<div class="t" style="left:40.10px;top:3354.72px;font-size:19.6px;font-weight:400;color:#6c6c6c;-webkit-text-stroke:0.5px #fff;">20</div>
<div class="t" style="left:51.00px;top:3390.00px;font-size:19.6px;font-weight:400;color:#6c6c6c;-webkit-text-stroke:0.5px #fff;">0</div>
<div class="t" style="left:316.44px;top:3479.12px;font-size:42.5px;font-weight:700;color:#f0c06a;letter-spacing:0.269px;transform:scaleX(1.0600);transform-origin:0 0;">AMINO ACIDS</div>
<div class="t" style="left:258.80px;top:3525.91px;font-size:19px;font-weight:400;color:#efc272;transform:scaleX(0.9451);transform-origin:0 0;-webkit-text-stroke:0.6px #fff;">THESE ARE ESSENTIAL FOR YOUR BODY</div>
<div class="t" style="left:53.70px;top:3593.70px;font-size:21.5px;font-weight:700;color:#fff;transform:scaleX(1.1220);transform-origin:0 0;">0.55</div>
<div class="t" style="left:73.20px;top:3613.78px;font-size:15.5px;font-weight:400;color:#fff;">g</div>
<div class="t" style="left:37.19px;top:3653.64px;font-size:20.5px;font-weight:400;color:#4a4a4a;transform:scaleX(1.0102);transform-origin:0 0;-webkit-text-stroke:0.6px #fff;">Histidine</div>
<div class="t" style="left:178.80px;top:3593.70px;font-size:21.5px;font-weight:700;color:#fff;transform:scaleX(1.1220);transform-origin:0 0;">0.89</div>
<div class="t" style="left:198.30px;top:3613.78px;font-size:15.5px;font-weight:400;color:#fff;">g</div>
<div class="t" style="left:153.60px;top:3653.64px;font-size:20.5px;font-weight:400;color:#4a4a4a;transform:scaleX(1.0483);transform-origin:0 0;-webkit-text-stroke:0.6px #fff;">Isoleucine</div>
<div class="t" style="left:304.42px;top:3593.70px;font-size:21.5px;font-weight:700;color:#fff;transform:scaleX(1.0761);transform-origin:0 0;">1.56</div>
<div class="t" style="left:323.50px;top:3613.78px;font-size:15.5px;font-weight:400;color:#fff;">g</div>
<div class="t" style="left:290.89px;top:3653.64px;font-size:20.5px;font-weight:400;color:#4a4a4a;transform:scaleX(1.0112);transform-origin:0 0;-webkit-text-stroke:0.6px #fff;">Leucine</div>
<div class="t" style="left:428.62px;top:3593.70px;font-size:21.5px;font-weight:700;color:#fff;transform:scaleX(1.0761);transform-origin:0 0;">1.64</div>
<div class="t" style="left:447.70px;top:3613.78px;font-size:15.5px;font-weight:400;color:#fff;">g</div>
<div class="t" style="left:422.10px;top:3653.64px;font-size:20.5px;font-weight:400;color:#4a4a4a;transform:scaleX(1.0018);transform-origin:0 0;-webkit-text-stroke:0.6px #fff;">Lysine</div>
<div class="t" style="left:554.00px;top:3593.70px;font-size:21.5px;font-weight:700;color:#fff;transform:scaleX(1.1220);transform-origin:0 0;">0.55</div>
<div class="t" style="left:573.50px;top:3613.78px;font-size:15.5px;font-weight:400;color:#fff;">g</div>
<div class="t" style="left:524.96px;top:3653.64px;font-size:20.5px;font-weight:400;color:#4a4a4a;transform:scaleX(1.0416);transform-origin:0 0;-webkit-text-stroke:0.6px #fff;">Methionine</div>
<div class="t" style="left:54.10px;top:3723.60px;font-size:21.5px;font-weight:700;color:#fff;transform:scaleX(1.1220);transform-origin:0 0;">0.79</div>
<div class="t" style="left:73.60px;top:3743.68px;font-size:15.5px;font-weight:400;color:#fff;">g</div>
<div class="t" style="left:14.07px;top:3783.54px;font-size:20.5px;font-weight:400;color:#4a4a4a;transform:scaleX(0.9820);transform-origin:0 0;-webkit-text-stroke:0.6px #fff;">Phenylalanine</div>
<div class="t" style="left:178.70px;top:3723.60px;font-size:21.5px;font-weight:700;color:#fff;transform:scaleX(1.1220);transform-origin:0 0;">0.83</div>
<div class="t" style="left:198.20px;top:3743.68px;font-size:15.5px;font-weight:400;color:#fff;">g</div>
<div class="t" style="left:156.75px;top:3783.54px;font-size:20.5px;font-weight:400;color:#4a4a4a;transform:scaleX(0.9890);transform-origin:0 0;-webkit-text-stroke:0.6px #fff;">Threonine</div>
<div class="t" style="left:304.50px;top:3723.60px;font-size:21.5px;font-weight:700;color:#fff;transform:scaleX(1.1220);transform-origin:0 0;">0.22</div>
<div class="t" style="left:324.00px;top:3743.68px;font-size:15.5px;font-weight:400;color:#fff;">g</div>
<div class="t" style="left:276.20px;top:3783.54px;font-size:20.5px;font-weight:400;color:#4a4a4a;transform:scaleX(1.0103);transform-origin:0 0;-webkit-text-stroke:0.6px #fff;">Tryptophan</div>
<div class="t" style="left:445.50px;top:3723.60px;font-size:21.5px;font-weight:700;color:#fff;">1</div>
<div class="t" style="left:448.00px;top:3743.68px;font-size:15.5px;font-weight:400;color:#fff;">g</div>
<div class="t" style="left:424.35px;top:3783.54px;font-size:20.5px;font-weight:400;color:#4a4a4a;transform:scaleX(1.0043);transform-origin:0 0;-webkit-text-stroke:0.6px #fff;">Valine</div>
<div class="t" style="left:305.00px;top:3869.61px;font-size:40.5px;font-weight:400;color:#fff;letter-spacing:-0.274px;-webkit-text-stroke:1.5px #bf8679;">inlivo</div>
<div class="t" style="left:208.21px;top:3911.65px;font-size:16px;font-weight:400;color:#fff;transform:scaleX(0.9920);transform-origin:0 0;-webkit-text-stroke:0.3px #bf8679;">Nutrition Tracker &amp; Health Coach</div>
<div class="t" style="left:254.86px;top:3928.32px;font-size:15.8px;font-weight:400;color:#fff;letter-spacing:2.007px;transform:scaleX(1.0600);transform-origin:0 0;">www.inlivo.com</div>
<div class="t" style="left:91.17px;top:3962.04px;font-size:13.3px;font-weight:400;color:#fff;transform:scaleX(1.0321);transform-origin:0 0;">Nothing contained in this presentation and our services is intended or implied</div>
<div class="t" style="left:183.90px;top:3979.24px;font-size:13.3px;font-weight:400;color:#fff;transform:scaleX(1.0312);transform-origin:0 0;">to be a medical advice, diagnosis or treatment.</div>
<div class="t" style="left:162.80px;top:4058.52px;font-size:13.8px;font-weight:700;color:#f3dcd6;transform:scaleX(0.9625);transform-origin:0 0;">Available on your desktop, tablet and mobile phone</div>
</body></html>
